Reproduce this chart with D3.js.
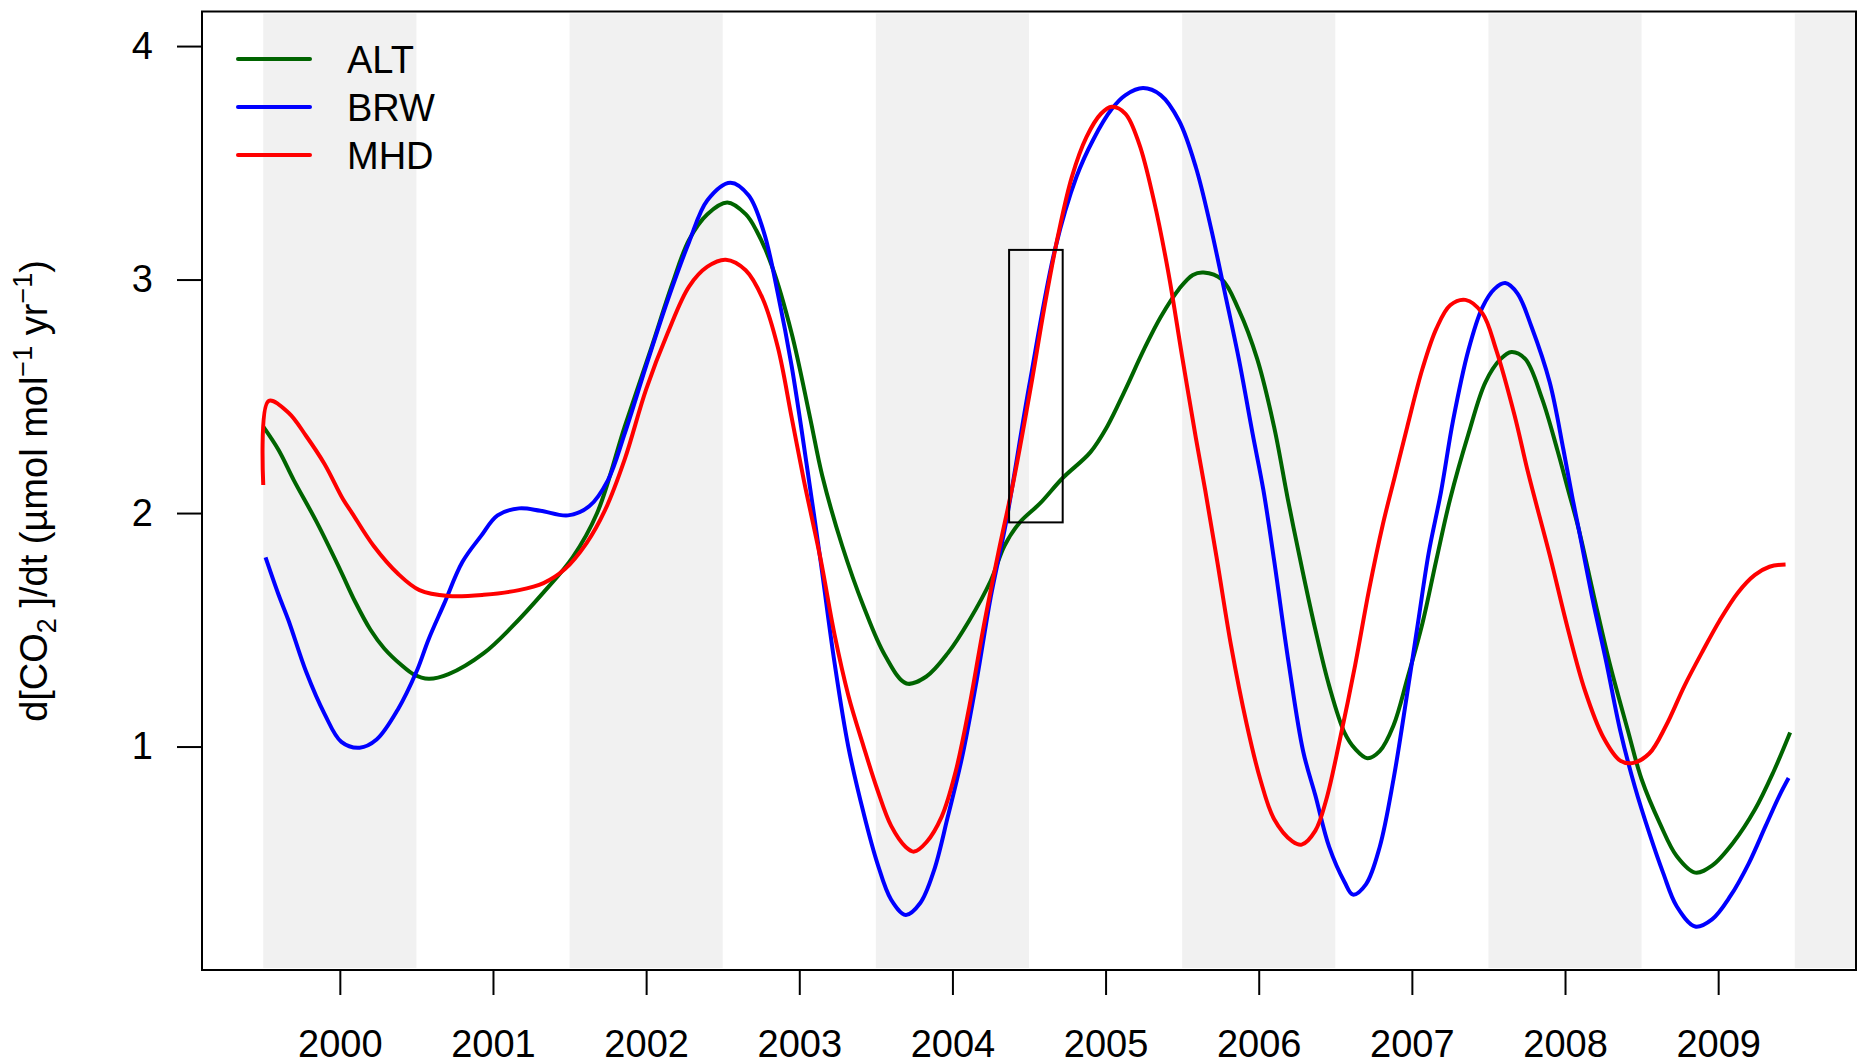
<!DOCTYPE html>
<html>
<head>
<meta charset="utf-8">
<script src="https://cdn.jsdelivr.net/npm/d3@7"></script>
<style>
  html, body { margin: 0; padding: 0; background: #fff; }
  svg { display: block; font-family: "Liberation Sans", Arial, Helvetica, sans-serif; }
</style>
</head>
<body>
<div id="chart"></div>
<script>
// station names and colours
const stations = ["ALT", "BRW", "MHD"];
const stationColors = ["#006400", "#0000ff", "#ff0000"];

// tick values
const yearTicks = [2000, 2001, 2002, 2003, 2004, 2005, 2006, 2007, 2008, 2009];
const rateTicks = [1, 2, 3, 4];

// shaded years (one year wide, centred)
const shadedYears = [2000, 2002, 2004, 2006, 2008, 2010];

// growth rate series, [decimal year, d[CO2]/dt]
const altSeries = [
  [1999.50, 2.37], [1999.60, 2.27], [1999.70, 2.14], [1999.85, 1.96], [2000.00, 1.76],
  [2000.10, 1.62], [2000.20, 1.50], [2000.29, 1.42], [2000.40, 1.35], [2000.48, 1.31],
  [2000.58, 1.29], [2000.71, 1.31], [2000.94, 1.40], [2001.12, 1.51], [2001.33, 1.66],
  [2001.52, 1.81], [2001.68, 2.00], [2001.86, 2.37], [2002.03, 2.70], [2002.17, 2.98],
  [2002.28, 3.17], [2002.40, 3.28], [2002.53, 3.33], [2002.65, 3.28], [2002.72, 3.21],
  [2002.82, 3.06], [2002.95, 2.77], [2003.07, 2.41], [2003.15, 2.16], [2003.28, 1.86],
  [2003.42, 1.60], [2003.56, 1.39], [2003.70, 1.27], [2003.83, 1.30], [2003.97, 1.40],
  [2004.11, 1.54], [2004.25, 1.71], [2004.34, 1.86], [2004.44, 1.96], [2004.57, 2.04],
  [2004.72, 2.15], [2004.90, 2.26], [2005.01, 2.37], [2005.13, 2.53], [2005.25, 2.70],
  [2005.36, 2.84], [2005.48, 2.96], [2005.57, 3.02], [2005.64, 3.03], [2005.76, 3.00],
  [2005.87, 2.87], [2005.99, 2.66], [2006.10, 2.37], [2006.19, 2.06], [2006.29, 1.74],
  [2006.37, 1.50], [2006.46, 1.26], [2006.56, 1.06], [2006.63, 0.99], [2006.71, 0.95],
  [2006.79, 0.98], [2006.88, 1.09], [2006.97, 1.29], [2007.07, 1.53], [2007.16, 1.80],
  [2007.25, 2.06], [2007.37, 2.34], [2007.48, 2.56], [2007.58, 2.66], [2007.65, 2.69],
  [2007.74, 2.66], [2007.85, 2.49], [2007.95, 2.27], [2008.02, 2.10], [2008.09, 1.93],
  [2008.19, 1.64], [2008.29, 1.36], [2008.41, 1.07], [2008.50, 0.86], [2008.62, 0.67],
  [2008.73, 0.53], [2008.85, 0.46], [2008.96, 0.49], [2009.10, 0.59], [2009.24, 0.73],
  [2009.36, 0.89], [2009.47, 1.06]
];

const brwSeries = [
  [1999.515, 1.81], [1999.60, 1.65], [1999.665, 1.54], [1999.78, 1.32], [1999.90, 1.14],
  [2000.01, 1.02], [2000.13, 0.995], [2000.24, 1.03], [2000.38, 1.16], [2000.50, 1.32],
  [2000.58, 1.46], [2000.68, 1.61], [2000.80, 1.79], [2000.92, 1.90], [2001.03, 1.99],
  [2001.17, 2.02], [2001.31, 2.01], [2001.49, 1.99], [2001.63, 2.03], [2001.75, 2.14],
  [2001.86, 2.34], [2002.00, 2.63], [2002.14, 2.91], [2002.28, 3.16], [2002.40, 3.34],
  [2002.55, 3.415], [2002.67, 3.36], [2002.77, 3.20], [2002.86, 2.94], [2002.95, 2.63],
  [2003.05, 2.20], [2003.14, 1.79], [2003.23, 1.36], [2003.32, 1.00], [2003.42, 0.715],
  [2003.51, 0.50], [2003.60, 0.344], [2003.695, 0.279], [2003.79, 0.33], [2003.88, 0.47],
  [2003.97, 0.70], [2004.065, 0.96], [2004.16, 1.29], [2004.25, 1.64], [2004.35, 1.96],
  [2004.50, 2.54], [2004.67, 3.13], [2004.81, 3.44], [2004.92, 3.60], [2005.04, 3.73],
  [2005.13, 3.79], [2005.245, 3.82], [2005.36, 3.79], [2005.48, 3.68], [2005.59, 3.48],
  [2005.685, 3.23], [2005.78, 2.94], [2005.87, 2.66], [2005.96, 2.34], [2006.03, 2.10],
  [2006.10, 1.80], [2006.195, 1.36], [2006.29, 0.98], [2006.37, 0.79], [2006.46, 0.57],
  [2006.56, 0.42], [2006.615, 0.366], [2006.70, 0.41], [2006.79, 0.57], [2006.88, 0.86],
  [2006.97, 1.23], [2007.04, 1.53], [2007.11, 1.83], [2007.19, 2.09], [2007.27, 2.40],
  [2007.37, 2.70], [2007.46, 2.88], [2007.54, 2.96], [2007.61, 2.985], [2007.69, 2.94],
  [2007.78, 2.80], [2007.90, 2.56], [2007.99, 2.27], [2008.05, 2.06], [2008.09, 1.93],
  [2008.18, 1.63], [2008.27, 1.36], [2008.36, 1.07], [2008.455, 0.83], [2008.55, 0.63],
  [2008.64, 0.46], [2008.73, 0.315], [2008.85, 0.229], [2008.96, 0.26], [2009.08, 0.36],
  [2009.20, 0.50], [2009.31, 0.66], [2009.40, 0.79], [2009.46, 0.865]
];

const mhdSeries = [
  [1999.50, 2.12], [1999.535, 2.48], [1999.665, 2.43], [1999.78, 2.33], [1999.90, 2.21],
  [2000.02, 2.06], [2000.08, 2.00], [2000.22, 1.86], [2000.38, 1.74], [2000.52, 1.67],
  [2000.71, 1.645], [2000.94, 1.65], [2001.17, 1.67], [2001.33, 1.70], [2001.47, 1.76],
  [2001.61, 1.87], [2001.73, 2.01], [2001.86, 2.23], [2002.00, 2.53], [2002.14, 2.77],
  [2002.28, 2.97], [2002.40, 3.055], [2002.52, 3.085], [2002.65, 3.04], [2002.76, 2.92],
  [2002.86, 2.71], [2002.95, 2.41], [2003.03, 2.14], [2003.14, 1.80], [2003.23, 1.48],
  [2003.32, 1.22], [2003.42, 1.00], [2003.51, 0.815], [2003.60, 0.66], [2003.695, 0.57],
  [2003.75, 0.55], [2003.83, 0.59], [2003.93, 0.70], [2004.02, 0.89], [2004.11, 1.17],
  [2004.20, 1.50], [2004.30, 1.83], [2004.40, 2.14], [2004.52, 2.57], [2004.60, 2.88],
  [2004.69, 3.19], [2004.78, 3.44], [2004.875, 3.61], [2004.97, 3.71], [2005.04, 3.74],
  [2005.13, 3.71], [2005.22, 3.58], [2005.315, 3.34], [2005.41, 3.03], [2005.50, 2.67],
  [2005.59, 2.32], [2005.65, 2.10], [2005.73, 1.79], [2005.82, 1.43], [2005.92, 1.10],
  [2006.01, 0.86], [2006.10, 0.69], [2006.22, 0.594], [2006.28, 0.58], [2006.37, 0.64],
  [2006.44, 0.77], [2006.53, 1.03], [2006.63, 1.35], [2006.72, 1.67], [2006.81, 1.95],
  [2006.89, 2.16], [2006.97, 2.37], [2007.07, 2.62], [2007.16, 2.79], [2007.25, 2.89],
  [2007.35, 2.913], [2007.46, 2.856], [2007.55, 2.70], [2007.67, 2.42], [2007.76, 2.17],
  [2007.90, 1.82], [2008.02, 1.50], [2008.13, 1.24], [2008.25, 1.04], [2008.36, 0.94],
  [2008.44, 0.929], [2008.55, 0.97], [2008.66, 1.09], [2008.78, 1.26], [2008.90, 1.41],
  [2009.01, 1.54], [2009.13, 1.66], [2009.24, 1.735], [2009.335, 1.77], [2009.44, 1.78]
];

// the highlighted window (time span and rate range)
const windowYears = [2004.37, 2004.72];
const windowRates = [1.96, 3.127];

const allSeries = [altSeries, brwSeries, mhdSeries];

// layout
const width = 1858, height = 1064;
const plot = { left: 202, right: 1856, top: 11.5, bottom: 970 };
const fontSize = 38;

const svg = d3.select("#chart")
  .append("svg")
    .attr("width", width)
    .attr("height", height);

const x = d3.scaleLinear()
  .domain([1999.1, 2009.9])
  .range([plot.left, plot.right]);

const y = d3.scaleLinear()
  .domain([0.043, 4.148])
  .range([plot.bottom, plot.top]);

svg.append("clipPath")
    .attr("id", "plot-clip")
  .append("rect")
    .attr("x", plot.left)
    .attr("y", plot.top)
    .attr("width", plot.right - plot.left)
    .attr("height", plot.bottom - plot.top);

const inner = svg.append("g").attr("clip-path", "url(#plot-clip)");

// alternating grey year bands
inner.selectAll("rect.band")
  .data(shadedYears)
  .join("rect")
    .attr("class", "band")
    .attr("x", d => x(d - 0.5))
    .attr("width", d => x(d + 0.5) - x(d - 0.5))
    .attr("y", plot.top + 2)
    .attr("height", plot.bottom - plot.top - 4)
    .attr("fill", "#f1f1f1");

// the curves
const line = d3.line()
  .x(d => x(d[0]))
  .y(d => y(d[1]))
  .curve(d3.curveCatmullRom.alpha(0.5));

inner.selectAll("path.series")
  .data(allSeries)
  .join("path")
    .attr("class", "series")
    .attr("d", line)
    .attr("fill", "none")
    .attr("stroke", (d, i) => stationColors[i])
    .attr("stroke-width", 4)
    .attr("stroke-linejoin", "round")
    .attr("stroke-linecap", "butt");

// highlighted window
svg.append("rect")
  .attr("x", x(windowYears[0]))
  .attr("y", y(windowRates[1]))
  .attr("width", x(windowYears[1]) - x(windowYears[0]))
  .attr("height", y(windowRates[0]) - y(windowRates[1]))
  .attr("fill", "none")
  .attr("stroke", "#000")
  .attr("stroke-width", 2);

// axes
const xAxis = svg.append("g")
  .attr("transform", `translate(0,${plot.bottom})`)
  .call(d3.axisBottom(x).tickValues(yearTicks).tickFormat(d3.format("d")).tickSize(25).tickPadding(35));

const yAxis = svg.append("g")
  .attr("transform", `translate(${plot.left},0)`)
  .call(d3.axisLeft(y).tickValues(rateTicks).tickFormat(d3.format("d")).tickSize(25).tickPadding(24));

[xAxis, yAxis].forEach(g => {
  g.select(".domain").remove();
  g.selectAll(".tick line").attr("stroke", "#000").attr("stroke-width", 2);
  g.selectAll(".tick text")
    .attr("fill", "#000")
    .style("font-size", fontSize + "px")
    .style("font-family", '"Liberation Sans", Arial, Helvetica, sans-serif');
});

// frame
svg.append("rect")
  .attr("x", plot.left)
  .attr("y", plot.top)
  .attr("width", plot.right - plot.left)
  .attr("height", plot.bottom - plot.top)
  .attr("fill", "none")
  .attr("stroke", "#000")
  .attr("stroke-width", 2);

// y axis title with sub/superscripts
const ylab = svg.append("text")
  .attr("transform", "translate(47,491) rotate(-90)")
  .attr("text-anchor", "middle")
  .style("font-size", fontSize + "px")
  .attr("fill", "#000");

ylab.append("tspan").text("d[CO");
ylab.append("tspan").attr("dy", 9).style("font-size", "27px").text("2");
ylab.append("tspan").attr("dy", -9).text(" ]/dt (\u00b5mol mol");
ylab.append("tspan").attr("dy", -15).style("font-size", "27px").text("\u22121");
ylab.append("tspan").attr("dy", 15).text(" yr");
ylab.append("tspan").attr("dy", -15).style("font-size", "27px").text("\u22121");
ylab.append("tspan").attr("dy", 15).text(")");

// legend
const legend = svg.append("g");
const legendItems = legend.selectAll("g")
  .data(stations)
  .join("g")
    .attr("transform", (d, i) => `translate(0,${59 + i * 48})`);

legendItems.append("line")
  .attr("x1", 238)
  .attr("x2", 310)
  .attr("stroke", (d, i) => stationColors[i])
  .attr("stroke-width", 4)
  .attr("stroke-linecap", "round");

legendItems.append("text")
  .attr("x", 347)
  .attr("y", 14)
  .style("font-size", fontSize + "px")
  .attr("fill", "#000")
  .text(d => d);
</script>
</body>
</html>
